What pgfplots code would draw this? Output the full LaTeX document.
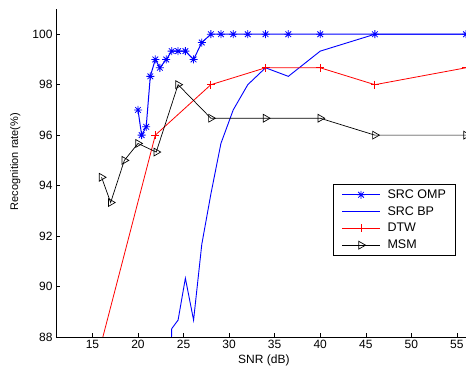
\documentclass[border=0pt]{standalone}
\usepackage{fontspec}
\setmainfont{Liberation Sans}
\usepackage{pgfplots}
\pgfplotsset{compat=1.18}
\pgfdeclareplotmark{mstar}{%
  \pgfpathmoveto{\pgfqpoint{-\pgfplotmarksize}{0pt}}\pgfpathlineto{\pgfqpoint{\pgfplotmarksize}{0pt}}%
  \pgfpathmoveto{\pgfqpoint{0pt}{-\pgfplotmarksize}}\pgfpathlineto{\pgfqpoint{0pt}{\pgfplotmarksize}}%
  \pgfpathmoveto{\pgfqpoint{-0.707\pgfplotmarksize}{-0.707\pgfplotmarksize}}\pgfpathlineto{\pgfqpoint{0.707\pgfplotmarksize}{0.707\pgfplotmarksize}}%
  \pgfpathmoveto{\pgfqpoint{-0.707\pgfplotmarksize}{0.707\pgfplotmarksize}}\pgfpathlineto{\pgfqpoint{0.707\pgfplotmarksize}{-0.707\pgfplotmarksize}}%
  \pgfusepathqstroke}
\begin{document}
\begin{tikzpicture}
\useasboundingbox (-56pt,-32pt) rectangle (410pt,337pt);
\begin{axis}[
  at={(0,0)}, anchor=south west,
  scale only axis, width=410pt, height=328pt,
  xmin=11, xmax=56, ymin=88, ymax=101,
  axis lines*=left, axis line style={-, black, line width=0.6pt},
  xtick={15,20,...,55}, ytick={88,90,...,100},
  tick align=inside, major tick length=4pt,
  tick style={black, line width=0.5pt},
  font=\fontsize{12}{14}\selectfont,
  /pgf/number format/assume math mode=true,
  xlabel={SNR (dB)}, ylabel={Recognition rate(\%)},
  xlabel style={at={(axis description cs:0.507,0)}, anchor=base, yshift=-27pt},
  ylabel style={at={(axis description cs:-0.078,0.535)}, anchor=south, font=\fontsize{11}{13}\selectfont},
  clip marker paths=true,
  legend cell align=left,
  legend style={at={(rel axis cs:0.676,0.4655)}, anchor=north west, draw, line width=0.8pt,
    font=\fontsize{12.5}{14}\selectfont, row sep=2.6pt, column sep=5pt, inner xsep=8pt, inner ysep=3pt},
  legend image code/.code={\draw[mark repeat=2,mark phase=2,#1] plot coordinates {(0pt,0pt)(19pt,0pt)(38pt,0pt)};},
]
\addplot[color=blue, line width=1pt, mark=mstar, mark size=4pt, mark options={line width=0.8pt}] coordinates {
(20,97) (20.4,96) (20.9,96.33) (21.35,98.33) (21.9,99) (22.4,98.67) (23.1,99) (23.7,99.33) (24.4,99.33) (25.2,99.33) (26.1,99) (27,99.67) (28,100) (29.1,100) (30.45,100) (32.05,100) (34,100) (36.5,100) (40,100) (46,100) (56,100)};
\addlegendentry{SRC OMP}
\addplot[color=blue, line width=0.9pt, mark=none, forget plot] coordinates {
(23.1,78) (23.7,88.33) (24.4,88.67) (25.2,90.33) (26.1,88.67) (27,91.67) (28,93.67) (29.1,95.67) (30.45,97) (32.05,98) (34,98.67) (36.5,98.33) (40,99.33) (46,100) (56,100)};
\addlegendimage{legend image code/.code={\draw[draw=blue, line width=0.9pt] (0pt,0pt) -- (38pt,0pt);}}
\addlegendentry{SRC BP}
\addplot[color=red, line width=0.8pt, mark=+, mark size=4pt] coordinates {
(16,87.8) (21.9,96) (28,98) (34,98.67) (40,98.67) (46,98) (56,98.67)};
\addlegendentry{DTW}
\addplot[color=black, line width=0.7pt, mark=triangle, mark size=4.5pt, mark options={rotate=-90, fill=none}] coordinates {
(16,94.33) (17,93.33) (18.5,95) (20,95.67) (22,95.33) (24.4,98) (28,96.67) (34,96.67) (40,96.67) (46,96) (56,96)};
\addlegendentry{MSM}
\end{axis}
\end{tikzpicture}
\end{document}
